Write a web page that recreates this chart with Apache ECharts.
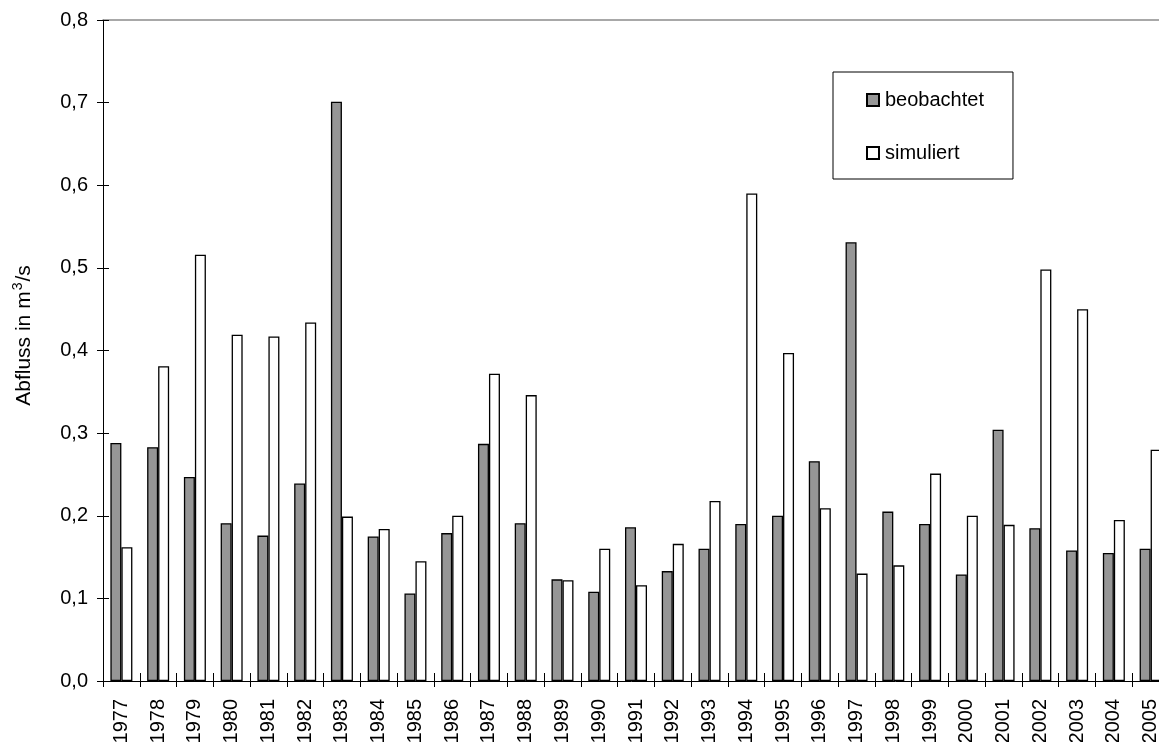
<!DOCTYPE html>
<html>
<head>
<meta charset="utf-8">
<script src="https://cdn.jsdelivr.net/npm/echarts@6/dist/echarts.min.js"></script>
<style>
html,body{margin:0;padding:0;background:#fff;}
#chart{width:1159px;height:742px;}
</style>
</head>
<body>
<div id="chart"></div>
<script>
const years = ['1977','1978','1979','1980','1981','1982','1983','1984','1985','1986','1987','1988','1989','1990','1991','1992','1993','1994','1995','1996','1997','1998','1999','2000','2001','2002','2003','2004','2005'];
const beobachtet = [0.288,0.283,0.247,0.191,0.176,0.239,0.701,0.175,0.106,0.179,0.287,0.191,0.123,0.108,0.186,0.133,0.160,0.190,0.200,0.266,0.531,0.205,0.190,0.129,0.304,0.185,0.158,0.155,0.160];
const simuliert  = [0.162,0.381,0.516,0.419,0.417,0.434,0.199,0.184,0.145,0.200,0.372,0.346,0.122,0.160,0.116,0.166,0.218,0.590,0.397,0.209,0.130,0.140,0.251,0.200,0.189,0.498,0.450,0.195,0.280];
const yTicks = ['0,0','0,1','0,2','0,3','0,4','0,5','0,6','0,7','0,8'];

const FONT = 'Liberation Sans, Arial, sans-serif';
const chart = echarts.init(document.getElementById('chart'), null, {renderer:'canvas'});
chart.setOption({
  animation: false,
  backgroundColor: '#fff',
  textStyle: {fontFamily: FONT},
  grid: {left: 103, top: 20, width: 1066, height: 661, containLabel: false, outerBoundsMode: 'none'},
  legend: {
    orient: 'vertical',
    left: 833, top: 72,
    padding: [18, 29, 16, 33],
    borderColor: '#000', borderWidth: 1,
    itemWidth: 12, itemHeight: 12, itemGap: 33,
    icon: 'rect',
    textStyle: {fontFamily: FONT, fontSize: 20, color: '#000', lineHeight: 20, padding: [0,0,0,1]},
    data: ['beobachtet','simuliert']
  },
  xAxis: [
    {
      type: 'category', data: years, position: 'bottom',
      axisLine: {lineStyle: {color: '#000', width: 1}},
      axisTick: {show: true, length: 6, lineStyle: {color: '#000'}},
      axisLabel: {rotate: 90, fontSize: 20, color: '#000', margin: 18, fontFamily: FONT, interval: 0}
    },
    {
      type: 'category', data: years, position: 'bottom',
      axisLine: {show: false},
      axisTick: {show: true, inside: true, length: 8, lineStyle: {color: '#000'}},
      axisLabel: {show: false}
    },
    {
      type: 'category', data: years, position: 'top',
      axisLine: {show: true, lineStyle: {color: '#8c8c8c', width: 1.5}},
      axisTick: {show: false},
      axisLabel: {show: false}
    }
  ],
  yAxis: [
    {
      type: 'value', min: 0, max: 0.8, interval: 0.1,
      name: '{a|Abfluss in m}{b|3}{a|/s}', nameLocation: 'middle', nameGap: 66, nameRotate: 90,
      nameTextStyle: {
        fontSize: 21, color: '#000', fontFamily: FONT, padding: [0, 0, 0, 30],
        rich: {
          a: {fontSize: 21, lineHeight: 26, color: '#000', fontFamily: FONT},
          b: {fontSize: 14, lineHeight: 14, verticalAlign: 'top', color: '#000', fontFamily: FONT, padding: [0, 1, 0, 1]}
        }
      },
      axisLine: {show: true, lineStyle: {color: '#000', width: 1}},
      axisTick: {show: true, length: 6, lineStyle: {color: '#000'}},
      splitLine: {show: false},
      axisLabel: {fontSize: 20, color: '#000', margin: 15, fontFamily: FONT,
        formatter: function (v) { return yTicks[Math.round(v * 10)]; }}
    },
    {
      type: 'value', min: 0, max: 0.8, interval: 0.1, position: 'left',
      axisLine: {show: false},
      axisTick: {show: true, inside: true, length: 6, lineStyle: {color: '#000'}},
      splitLine: {show: false},
      axisLabel: {show: false}
    }
  ],
  series: [
    {
      name: 'beobachtet', type: 'bar', data: beobachtet, barWidth: 11, barGap: '0%',
      itemStyle: {color: '#969696', borderColor: '#000', borderWidth: 1.3}
    },
    {
      name: 'simuliert', type: 'bar', data: simuliert, barWidth: 11, barGap: '0%',
      itemStyle: {color: '#ffffff', borderColor: '#000', borderWidth: 1.3}
    }
  ]
});
</script>
</body>
</html>
